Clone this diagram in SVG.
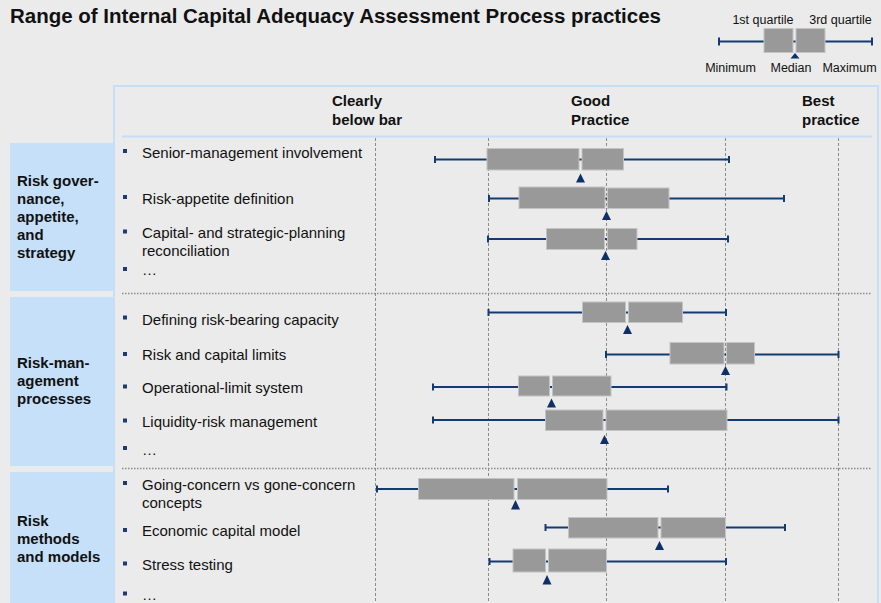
<svg xmlns="http://www.w3.org/2000/svg" width="881" height="603" viewBox="0 0 881 603">
<style>
text{font-family:"Liberation Sans",Arial,sans-serif;fill:#111}
.t{font-size:19.5px;font-weight:bold}
.lg{font-size:12.5px}
.h{font-size:15px;font-weight:bold}
.cat{font-size:15px;font-weight:bold}
.it{font-size:15px}
.lab{fill:#c6e0f9}
.bul{fill:#1f3b73}
.wh{stroke:#143a73;stroke-width:2;fill:none}
.cap{stroke:#143a73;stroke-width:2}
.bx{fill:#999999;stroke:#c4c4c4;stroke-width:1}
.med{fill:#0f2f68}
.vl{stroke:#8a8a8a;stroke-width:1;stroke-dasharray:3 2}
.sep{stroke:#8c8c8c;stroke-width:1.5;stroke-dasharray:1.5 1.5}
</style>
<rect width="881" height="603" fill="#ebebeb"/>
<text class="t" x="10" y="23" textLength="651" lengthAdjust="spacingAndGlyphs">Range of Internal Capital Adequacy Assessment Process practices</text>

<g id="legend">
<line class="wh" x1="719" y1="41.5" x2="872" y2="41.5"/>
<line class="cap" x1="719" y1="37.5" x2="719" y2="45.5"/>
<line class="cap" x1="872" y1="37.5" x2="872" y2="45.5"/>
<rect class="bx" x="764" y="28.5" width="29" height="24"/>
<rect class="bx" x="796" y="28.5" width="29" height="24"/>
<polygon class="med" points="795,53 799.5,58.5 790.5,58.5"/>
<text class="lg" x="763" y="24" text-anchor="middle">1st quartile</text>
<text class="lg" x="840.5" y="24" text-anchor="middle">3rd quartile</text>
<text class="lg" x="730.5" y="72" text-anchor="middle">Minimum</text>
<text class="lg" x="791" y="72" text-anchor="middle">Median</text>
<text class="lg" x="849.5" y="72" text-anchor="middle">Maximum</text>
</g>

<g id="frame">
<path d="M114,603 V86 H878 V603" fill="none" stroke="#c6def6" stroke-width="2"/>
<line x1="122" y1="136.5" x2="872" y2="136.5" stroke="#c6def6" stroke-width="2"/>
</g>

<g id="headers">
<text class="h" x="332" y="106">Clearly</text>
<text class="h" x="332" y="125">below bar</text>
<text class="h" x="571" y="106">Good</text>
<text class="h" x="571" y="125">Practice</text>
<text class="h" x="802" y="106">Best</text>
<text class="h" x="802" y="125">practice</text>
</g>

<g id="grid">
<line class="vl" x1="375.5" y1="138" x2="375.5" y2="603"/>
<line class="vl" x1="488.5" y1="138" x2="488.5" y2="603"/>
<line class="vl" x1="606.5" y1="138" x2="606.5" y2="603"/>
<line class="vl" x1="725.5" y1="138" x2="725.5" y2="603"/>
<line class="vl" x1="838.5" y1="138" x2="838.5" y2="603"/>
<line class="sep" x1="122" y1="293.5" x2="872" y2="293.5"/>
<line class="sep" x1="122" y1="468.5" x2="872" y2="468.5"/>
</g>

<g id="cat-governance">
<rect class="lab" x="10" y="143" width="103.5" height="148"/>
<text class="cat" x="17" y="186">Risk gover-</text>
<text class="cat" x="17" y="204">nance,</text>
<text class="cat" x="17" y="222">appetite,</text>
<text class="cat" x="17" y="240">and</text>
<text class="cat" x="17" y="258">strategy</text>
</g>
<g id="cat-processes">
<rect class="lab" x="10" y="297" width="103.5" height="169"/>
<text class="cat" x="17" y="368">Risk-man-</text>
<text class="cat" x="17" y="386">agement</text>
<text class="cat" x="17" y="404">processes</text>
</g>
<g id="cat-methods">
<rect class="lab" x="10" y="472" width="103.5" height="131"/>
<text class="cat" x="17" y="526">Risk</text>
<text class="cat" x="17" y="544">methods</text>
<text class="cat" x="17" y="562">and models</text>
</g>

<g id="items">
<rect class="bul" x="123" y="149" width="4" height="4"/><text class="it" x="142" y="158">Senior-management involvement</text>
<rect class="bul" x="123" y="195" width="4" height="4"/><text class="it" x="142" y="203.5">Risk-appetite definition</text>
<rect class="bul" x="123" y="229.5" width="4" height="4"/><text class="it" x="142" y="238">Capital- and strategic-planning</text><text class="it" x="142" y="256">reconciliation</text>
<rect class="bul" x="123" y="267" width="4" height="4"/><text class="it" x="142" y="275">…</text>

<rect class="bul" x="123" y="315.5" width="4" height="4"/><text class="it" x="142" y="324.5">Defining risk-bearing capacity</text>
<rect class="bul" x="123" y="352" width="4" height="4"/><text class="it" x="142" y="360">Risk and capital limits</text>
<rect class="bul" x="123" y="384.5" width="4" height="4"/><text class="it" x="142" y="393">Operational-limit system</text>
<rect class="bul" x="123" y="418.5" width="4" height="4"/><text class="it" x="142" y="427">Liquidity-risk management</text>
<rect class="bul" x="123" y="446" width="4" height="4"/><text class="it" x="142" y="455">…</text>

<rect class="bul" x="123" y="481" width="4" height="4"/><text class="it" x="142" y="489.5">Going-concern vs gone-concern</text><text class="it" x="142" y="507.5">concepts</text>
<rect class="bul" x="123" y="528" width="4" height="4"/><text class="it" x="142" y="535.5">Economic capital model</text>
<rect class="bul" x="123" y="561.5" width="4" height="4"/><text class="it" x="142" y="569.5">Stress testing</text>
<rect class="bul" x="123" y="591.5" width="4" height="4"/><text class="it" x="142" y="600">…</text>
</g>

<g id="row-senior">
<line class="wh" x1="435" y1="159.5" x2="729" y2="159.5"/><line class="cap" x1="435" y1="156" x2="435" y2="163"/><line class="cap" x1="729" y1="156" x2="729" y2="163"/>
<rect class="bx" x="487" y="148.5" width="92" height="21.5"/><rect class="bx" x="582" y="148.5" width="41.5" height="21.5"/>
<polygon class="med" points="580.5,173.5 585,182.5 576,182.5"/>
</g>
<g id="row-appetite">
<line class="wh" x1="489" y1="198.5" x2="784" y2="198.5"/><line class="cap" x1="489" y1="195" x2="489" y2="202"/><line class="cap" x1="784" y1="195" x2="784" y2="202"/>
<rect class="bx" x="519" y="187" width="86" height="21.5"/><rect class="bx" x="607.5" y="188" width="61.5" height="20.5"/>
<polygon class="med" points="606.5,211 611,220 602,220"/>
</g>
<g id="row-capital">
<line class="wh" x1="488" y1="239" x2="728" y2="239"/><line class="cap" x1="488" y1="235.5" x2="488" y2="242.5"/><line class="cap" x1="728" y1="235.5" x2="728" y2="242.5"/>
<rect class="bx" x="546.5" y="228.5" width="58" height="21"/><rect class="bx" x="607.5" y="228.5" width="29.5" height="21"/>
<polygon class="med" points="605.5,251 610,260 601,260"/>
</g>
<g id="row-capacity">
<line class="wh" x1="488.5" y1="312.5" x2="726" y2="312.5"/><line class="cap" x1="488.5" y1="309" x2="488.5" y2="316"/><line class="cap" x1="726" y1="309" x2="726" y2="316"/>
<rect class="bx" x="582.5" y="302" width="43" height="20.5"/><rect class="bx" x="628.5" y="302" width="54" height="20.5"/>
<polygon class="med" points="627.5,325 632,334 623,334"/>
</g>
<g id="row-limits">
<line class="wh" x1="606" y1="354.5" x2="838.5" y2="354.5"/><line class="cap" x1="606" y1="351" x2="606" y2="358"/><line class="cap" x1="838.5" y1="351" x2="838.5" y2="358"/>
<rect class="bx" x="670" y="342.5" width="54" height="21.5"/><rect class="bx" x="726.5" y="342.5" width="28" height="21.5"/>
<polygon class="med" points="725.5,366 730,375 721,375"/>
</g>
<g id="row-operational">
<line class="wh" x1="433" y1="387" x2="726.5" y2="387"/><line class="cap" x1="433" y1="383.5" x2="433" y2="390.5"/><line class="cap" x1="726.5" y1="383.5" x2="726.5" y2="390.5"/>
<rect class="bx" x="518.5" y="376" width="31" height="20"/><rect class="bx" x="552.5" y="376" width="58.5" height="20"/>
<polygon class="med" points="551.5,398.5 556,407.5 547,407.5"/>
</g>
<g id="row-liquidity">
<line class="wh" x1="433" y1="420" x2="838.5" y2="420"/><line class="cap" x1="433" y1="416.5" x2="433" y2="423.5"/><line class="cap" x1="838.5" y1="416.5" x2="838.5" y2="423.5"/>
<rect class="bx" x="545.5" y="410" width="57.5" height="20.5"/><rect class="bx" x="606" y="410" width="121" height="20.5"/>
<polygon class="med" points="604.5,435 609,444 600,444"/>
</g>
<g id="row-going">
<line class="wh" x1="377" y1="489" x2="668" y2="489"/><line class="cap" x1="377" y1="485.5" x2="377" y2="492.5"/><line class="cap" x1="668" y1="485.5" x2="668" y2="492.5"/>
<rect class="bx" x="418.5" y="478.5" width="95.5" height="21"/><rect class="bx" x="517.5" y="478.5" width="89.5" height="21"/>
<polygon class="med" points="515.5,500 520,509.5 511,509.5"/>
</g>
<g id="row-economic">
<line class="wh" x1="545.5" y1="527.5" x2="785" y2="527.5"/><line class="cap" x1="545.5" y1="524" x2="545.5" y2="531"/><line class="cap" x1="785" y1="524" x2="785" y2="531"/>
<rect class="bx" x="568.5" y="517.5" width="89.5" height="20.5"/><rect class="bx" x="661" y="517.5" width="64.5" height="20.5"/>
<polygon class="med" points="659.5,541 664,550 655,550"/>
</g>
<g id="row-stress">
<line class="wh" x1="489.5" y1="561.5" x2="726" y2="561.5"/><line class="cap" x1="489.5" y1="558" x2="489.5" y2="565"/><line class="cap" x1="726" y1="558" x2="726" y2="565"/>
<rect class="bx" x="513" y="549" width="32.5" height="23"/><rect class="bx" x="548.5" y="549" width="58" height="23"/>
<polygon class="med" points="547,575 551.5,584.5 542.5,584.5"/>
</g>
</svg>
